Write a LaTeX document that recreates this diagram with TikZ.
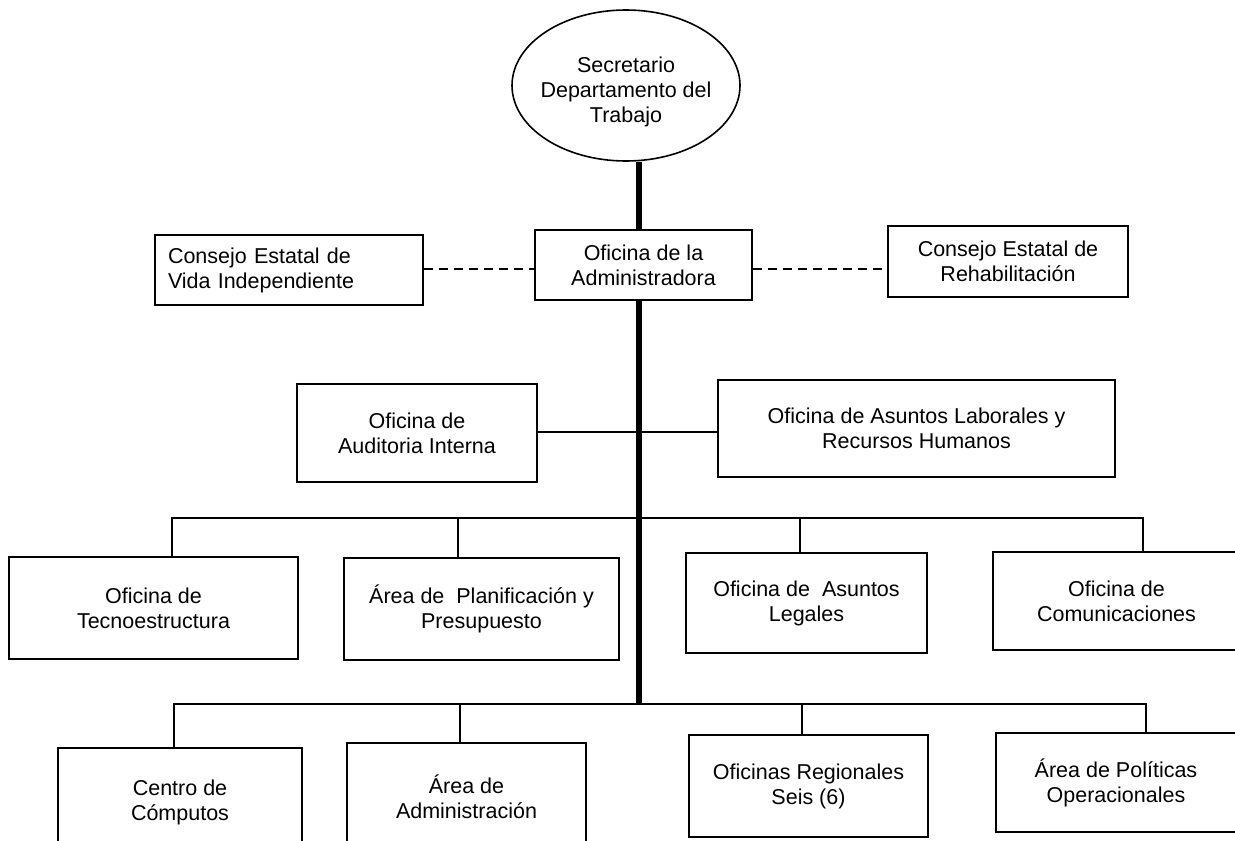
\documentclass[tikz,border=0pt]{standalone}
\usepackage{fontspec}
\setmainfont{Liberation Sans}
\usetikzlibrary{shapes.geometric}
\begin{document}
\begin{tikzpicture}[x=1pt,y=-1pt,
  box/.style={draw,line width=1.6pt,rectangle,inner sep=0pt,align=center,
    font=\fontsize{21.5}{25}\selectfont,anchor=center},
  thinline/.style={line width=1.6pt},
  thickline/.style={line width=6.5pt},
  dashline/.style={line width=1.6pt,dash pattern=on 9pt off 6pt}]
\useasboundingbox (0,0) rectangle (1235,841);
\clip (0,0) rectangle (1235,841);
% nodes
\node[box,ellipse,inner xsep=-6pt,inner ysep=0pt,minimum width=228pt,minimum height=151pt] (sec) at (626,85.5)
  {\rule{0pt}{28pt}Secretario\\Departamento del\\Trabajo};
\node[box,minimum width=217pt,minimum height=70pt] (adm) at (643.5,265)
  {Oficina de la\\Administradora};
\node[box,align=left,text width=242pt,inner xsep=13pt,minimum height=70pt] (vida) at (289,270)
  {Consejo Estatal de\\Vida Independiente};
\node[box,minimum width=240pt,minimum height=71pt] (rehab) at (1008,261.5)
  {Consejo Estatal de\\Rehabilitación};
\node[box,minimum width=240pt,minimum height=98pt] (aud) at (417,433)
  {Oficina de\\Auditoria Interna};
\node[box,minimum width=397pt,minimum height=97pt] (lab) at (916.5,428.5)
  {Oficina de Asuntos Laborales y\\Recursos Humanos};
\node[box,minimum width=289pt,minimum height=102pt] (tec) at (153.5,608)
  {Oficina de\\Tecnoestructura};
\node[box,minimum width=275pt,minimum height=102pt] (plan) at (481.5,609)
  {Área de~ Planificación y\\Presupuesto};
\node[box,minimum width=241pt,minimum height=100pt] (leg) at (806.5,603)
  {Oficina de~ Asuntos\\Legales};
\node[box,minimum width=247pt,minimum height=98pt] (com) at (1116.5,601)
  {Oficina de\\Comunicaciones};
\node[box,minimum width=244pt,minimum height=108pt] (cc) at (180,802)
  {Centro de\\Cómputos};
\node[box,minimum width=239pt,minimum height=108pt] (aa) at (466.5,797)
  {Área de\\Administración};
\node[box,minimum width=239pt,minimum height=102pt] (reg) at (808.5,786)
  {Oficinas Regionales\\Seis (6)};
\node[box,minimum width=240pt,minimum height=99pt] (pol) at (1116,782.5)
  {Área de Políticas\\Operacionales};
% coordinates
\coordinate (spine) at (639,704);
\coordinate (dl) at (0,269);
\coordinate (hl) at (0,432);
\coordinate (b1l) at (172,518);
\coordinate (b1a) at (458,518);
\coordinate (b1b) at (800,518);
\coordinate (b1r) at (1143,518);
\coordinate (b2l) at (174,704);
\coordinate (b2a) at (460,704);
\coordinate (b2b) at (802,704);
\coordinate (b2r) at (1146,704);
% connectors
\draw[thickline] (sec.south -| spine) -- (adm.north -| spine);
\draw[thickline] (adm.south -| spine) -- ([yshift=0.8pt]spine);
\draw[dashline] (vida.east |- dl) -- (adm.west |- dl);
\draw[dashline] (adm.east |- dl) -- (rehab.west |- dl);
\draw[thinline] (aud.east |- hl) -- (lab.west |- hl);
\draw[thinline] (tec.north -| b1l) -- (b1l) -- (b1r) -- (com.north -| b1r);
\draw[thinline] (b1a) -- (plan.north -| b1a);
\draw[thinline] (b1b) -- (leg.north -| b1b);
\draw[thinline] (cc.north -| b2l) -- (b2l) -- (b2r) -- (pol.north -| b2r);
\draw[thinline] (b2a) -- (aa.north -| b2a);
\draw[thinline] (b2b) -- (reg.north -| b2b);
\end{tikzpicture}
\end{document}
